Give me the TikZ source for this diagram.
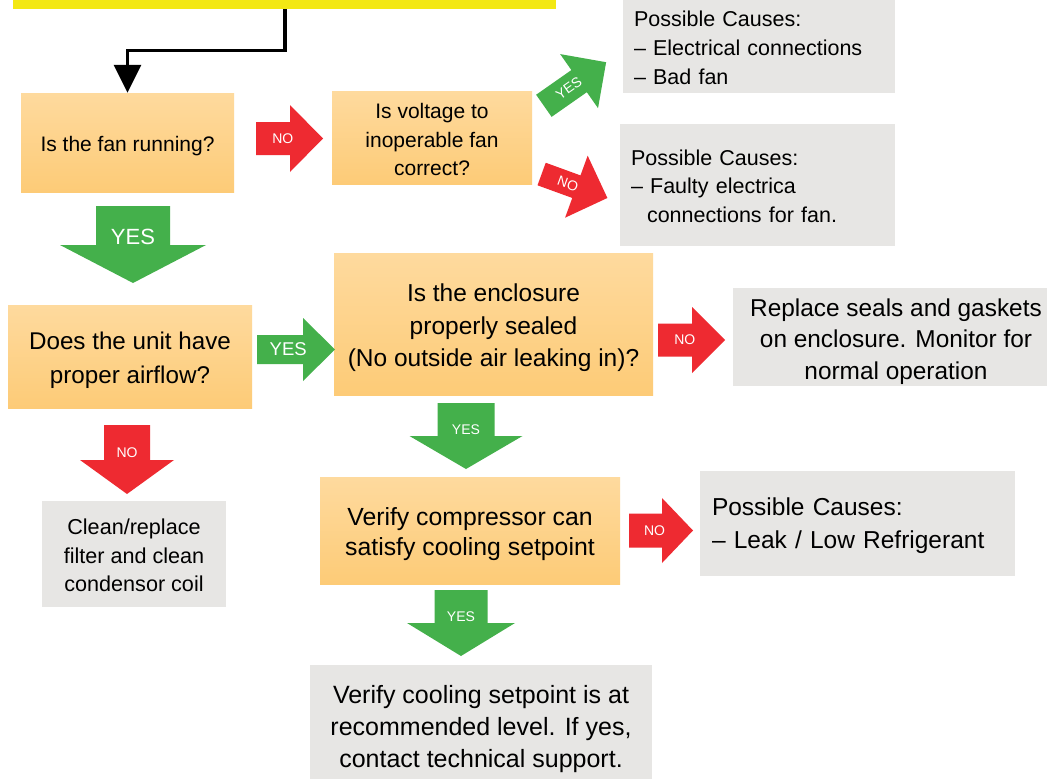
\documentclass[tikz,border=0pt]{standalone}
\usepackage{fontspec}
\setmainfont{Liberation Sans}
\usetikzlibrary{arrows.meta}
\definecolor{orTop}{HTML}{FEDA9E}
\definecolor{orBot}{HTML}{FDCB77}
\definecolor{grayBox}{HTML}{E7E6E4}
\definecolor{agreen}{HTML}{44B04B}
\definecolor{ared}{HTML}{EE2A31}
\definecolor{barYellow}{HTML}{F3E813}
\newcommand{\fs}[2]{\fontsize{#1}{#2}\selectfont}
% invisible strut on the first line, to lower the text block a little
\newcommand{\tr}[1]{\rule{0pt}{#1pt}}
\tikzset{
  obox/.style={rectangle, inner sep=0pt, top color=orTop, bottom color=orBot, draw=none, align=center},
  gbox/.style={rectangle, fill=grayBox, inner sep=0pt, align=center},
  glbox/.style={rectangle, fill=grayBox, inner ysep=0pt, align=left},
  arrowYES/.style={fill=agreen},
  arrowNO/.style={fill=ared},
  alabel/.style={text=white, inner sep=0pt},
  conn/.style={line width=3.4pt, -{Triangle[width=27pt,length=28pt]}},
}
% #1 name, #2 centre, #3 angle, #4 length, #5 shaft width, #6 head width, #7 head length, #8 label options, #9 label
\newcommand{\blockarrow}[9]{%
  \begin{scope}[shift={#2},rotate=#3]
    \fill[arrow#9] ({-#4/2},{-#5/2}) -- ({#4/2-#7},{-#5/2}) -- ({#4/2-#7},{-#6/2}) -- ({#4/2},0)
      -- ({#4/2-#7},{#6/2}) -- ({#4/2-#7},{#5/2}) -- ({-#4/2},{#5/2}) -- cycle;
    \node[alabel,#8] (#1) at ({-0.1*#4},0) {#9};
  \end{scope}}
\begin{document}
\begin{tikzpicture}[x=1pt,y=-1pt]
\useasboundingbox (0,0) rectangle (1047,779);
\fill[white] (0,0) rectangle (1047,779);

% top bar
\node[rectangle, fill=barYellow, inner sep=0pt, minimum width=543pt, minimum height=9pt] (bar) at (284.5,4.5) {};

% decision boxes
\node[obox, minimum width=213pt, minimum height=99pt, font=\fs{21}{28.5}] (fan) at (127.5,142.5) {\tr{23.3}Is the fan running?};
\node[obox, minimum width=200pt, minimum height=93pt, font=\fs{21}{28.5}] (volt) at (432,137.5) {\tr{19.3}Is voltage to\\inoperable fan\\correct?};
\node[obox, minimum width=244pt, minimum height=103pt, font=\fs{24.2}{34}] (air) at (130,356.5) {\tr{25.7}Does the unit have\\proper airflow?};
\node[obox, minimum width=319pt, minimum height=142pt, font=\fs{24.5}{32.5}] (encl) at (493.5,324) {\tr{26}Is the enclosure\\properly sealed\\(No outside air leaking in)?};
\node[obox, minimum width=300pt, minimum height=107pt, font=\fs{24.8}{30}] (comp) at (470,530.5) {\tr{26}Verify compressor can\\satisfy cooling setpoint};

% result boxes
\node[glbox, minimum width=272pt, minimum height=93pt, inner xsep=11pt, text width=250pt, font=\fs{21.5}{29}] (cause1) at (759,46.5) {\tr{17.7}Possible Causes:\\– Electrical connections\\– Bad fan};
\node[glbox, minimum width=275pt, minimum height=122pt, inner xsep=11pt, text width=253pt, font=\fs{21.5}{28.5}] (cause2) at (757.5,185) {\tr{17.7}Possible Causes:\\– Faulty electrica\\\hspace*{16pt}connections for fan.};
\node[gbox, minimum width=326pt, minimum height=98pt, font=\fs{24.4}{31.5}] (seal) at (896,337) {\tr{26.8}Replace seals and gaskets\\on enclosure. Monitor for\\normal operation};
\node[gbox, minimum width=184pt, minimum height=106pt, font=\fs{21.6}{28.5}] (clean) at (134,554) {\tr{18.8}Clean/replace\\filter and clean\\condensor coil};
\node[glbox, minimum width=315pt, minimum height=105pt, inner xsep=12pt, text width=291pt, font=\fs{24.5}{33}] (cause3) at (857.5,523.5) {\tr{22}Possible Causes:\\– Leak / Low Refrigerant};
\node[gbox, minimum width=342pt, minimum height=122pt, font=\fs{25}{32}] (verify) at (481,726) {\tr{24.3}Verify cooling setpoint is at\\recommended level. If yes,\\contact technical support.};

% black connector from the top bar to the first question
\coordinate (bend) at (285,50.5);
\draw[conn] (bar.south -| bend) -- (bend) -| (fan.north);

% block arrows
\blockarrow{a1}{(289.5,138.5)}{0}{67}{33}{67}{33}{font=\fs{14}{14}}{NO}
\blockarrow{a2}{(575,84)}{35}{76}{27}{66}{33}{font=\fs{14}{14}, transform shape}{YES}
\blockarrow{a3}{(574.5,186)}{-20}{70}{24}{66}{33}{font=\fs{14}{14}, transform shape}{NO}
\blockarrow{a4}{(133,244.5)}{-90}{77}{74}{146}{38}{font=\fs{22}{22}}{YES}
\blockarrow{a5}{(296,349.5)}{0}{78}{29}{63}{32}{font=\fs{18.5}{18.5}}{YES}
\blockarrow{a6}{(691.5,340)}{0}{67}{33}{66}{33}{font=\fs{14}{14}}{NO}
\blockarrow{a7}{(127,459.5)}{-90}{69}{46}{94}{34}{font=\fs{14}{14}}{NO}
\blockarrow{a8}{(466,436)}{-90}{66}{57}{113}{33}{font=\fs{14}{14}}{YES}
\blockarrow{a9}{(661,530.5)}{0}{64}{34}{65}{31}{font=\fs{14}{14}}{NO}
\blockarrow{a10}{(461,623)}{-90}{66}{53}{108}{33}{font=\fs{14}{14}}{YES}
\end{tikzpicture}
\end{document}
